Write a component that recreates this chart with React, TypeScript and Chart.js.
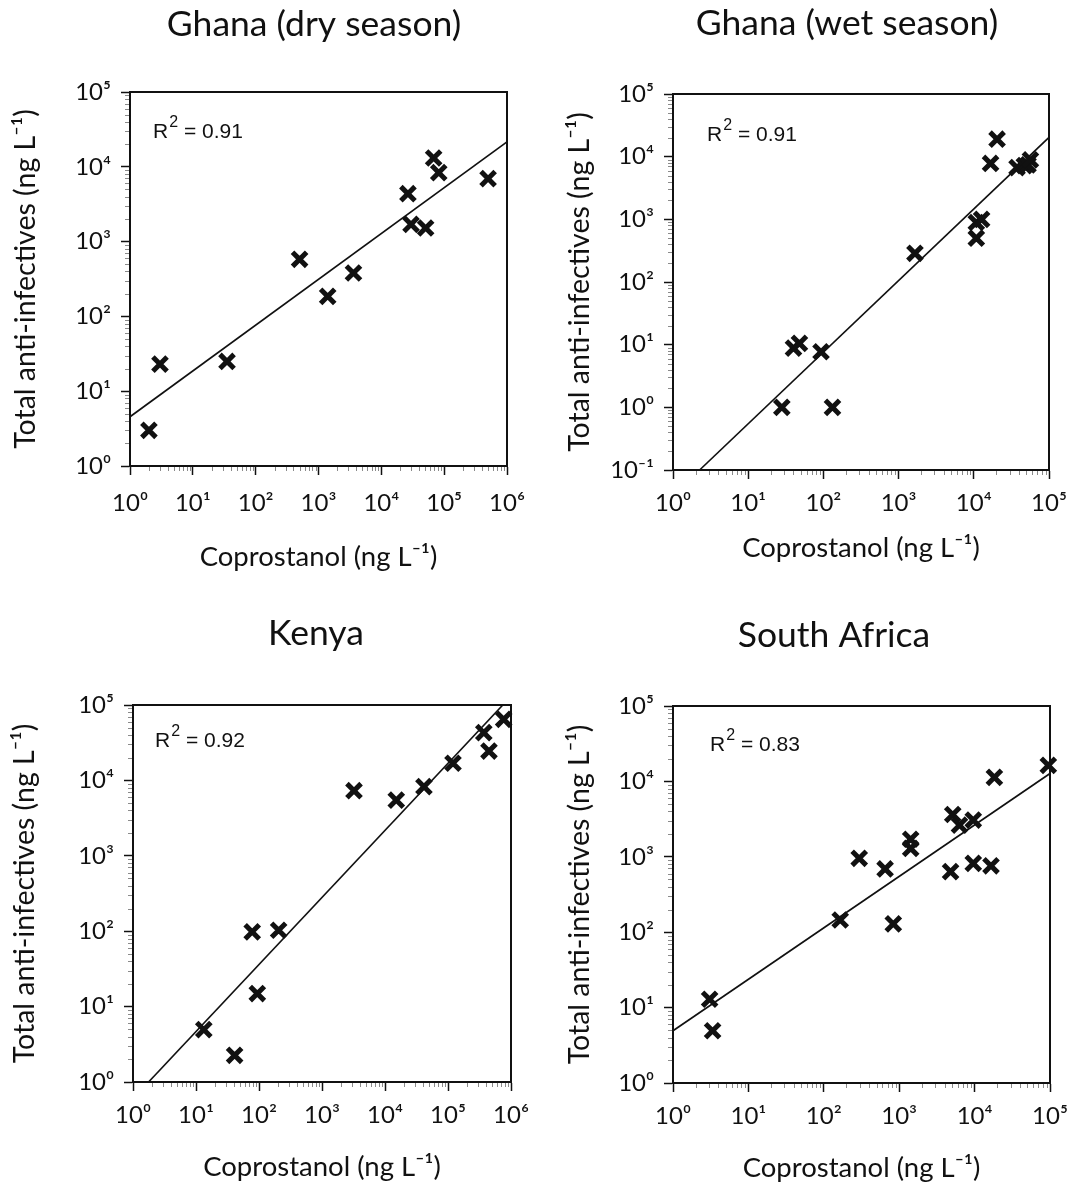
import { useEffect, useRef } from "react";
import { Chart, registerables } from "chart.js";

Chart.register(...registerables);

// ---------------- data ----------------
const panelTitles = ["Ghana (dry season)", "Ghana (wet season)", "Kenya", "South Africa"];
const r2Values = ["0.91", "0.91", "0.92", "0.83"];
const xMaxExps = [6, 5, 6, 5];
const yMinExps = [0, -1, 0, 0];
const yMaxExps = [5, 5, 5, 5];
const xAxisTitle = "Coprostanol (ng L⁻¹)";
const yAxisTitle = "Total anti-infectives (ng L⁻¹)";

const ghanaDryX = [2, 3, 35, 500, 1400, 3600, 26500, 29700, 50700, 68000, 82000, 500000];
const ghanaDryY = [3, 23, 25, 580, 185, 380, 4370, 1700, 1520, 13100, 8370, 6940];
const ghanaDryFitX = [1, 1000000];
const ghanaDryFitY = [4.55, 21500];

const ghanaWetX = [28, 132, 40, 48, 93, 1650, 10800, 10800, 12700, 16700, 20400, 37600, 47000, 52600, 56600];
const ghanaWetY = [1, 1, 8.8, 10.5, 7.7, 287, 500, 890, 1000, 7800, 19000, 6700, 7200, 7400, 8900];
const ghanaWetFitX = [2.26, 100000];
const ghanaWetFitY = [0.1, 20400];

const kenyaX = [13.3, 41, 78, 94, 205, 3220, 15100, 41500, 120000, 370000, 447000, 765000];
const kenyaY = [4.95, 2.26, 98, 14.9, 103, 7300, 5470, 8270, 16900, 43000, 24500, 64600];
const kenyaFitX = [1.77, 741000];
const kenyaFitY = [1, 100000];

const southAfricaX = [3.06, 3.35, 165, 295, 650, 835, 1420, 1420, 4800, 5130, 6300, 9600, 9600, 16500, 18300, 95000];
const southAfricaY = [12.9, 4.93, 145, 955, 690, 129, 1710, 1290, 635, 3640, 2630, 3070, 818, 760, 11300, 16300];
const southAfricaFitX = [1, 100000];
const southAfricaFitY = [4.93, 12700];

const seriesX = [ghanaDryX, ghanaWetX, kenyaX, southAfricaX];
const seriesY = [ghanaDryY, ghanaWetY, kenyaY, southAfricaY];
const fitXs = [ghanaDryFitX, ghanaWetFitX, kenyaFitX, southAfricaFitX];
const fitYs = [ghanaDryFitY, ghanaWetFitY, kenyaFitY, southAfricaFitY];

// ---------------- layout (pixels) ----------------
type Geo = {
  left: number; top: number; w: number; h: number;
  pt: number; pr: number; yW: number; xH: number;
  tx: number; ty: number; yTitlePad: number; xTitlePad: number;
  xLabelPad: number; r2dx: number; r2dy: number;
};
const geos: Geo[] = [
  { left: 0, top: 0, w: 527, h: 596, pt: 92, pr: 20, yW: 130, xH: 130, tx: 314, ty: 25, yTitlePad: 9, xTitlePad: 22, xLabelPad: 13.6, r2dx: 23, r2dy: 46 },
  { left: 537, top: 0, w: 532, h: 596, pt: 94, pr: 20, yW: 136, xH: 126, tx: 310, ty: 24, yTitlePad: 26, xTitlePad: 31.5, xLabelPad: 9.6, r2dx: 34, r2dy: 47 },
  { left: 0, top: 596, w: 531, h: 597, pt: 109, pr: 20, yW: 133, xH: 111, tx: 316, ty: 38, yTitlePad: 8, xTitlePad: 9.5, xLabelPad: 9.6, r2dx: 22, r2dy: 42 },
  { left: 537, top: 596, w: 533, h: 597, pt: 110, pr: 20, yW: 136, xH: 110, tx: 297, ty: 40, yTitlePad: 26, xTitlePad: 8.5, xLabelPad: 9.6, r2dx: 37, r2dy: 45 },
];

const FONT = "Lato, 'Open Sans', sans-serif";
const INK = "#111";

const SUP: Record<string, string> = { "0": "⁰", "1": "¹", "2": "²", "3": "³", "4": "⁴", "5": "⁵", "6": "⁶", "-": "⁻" };
const isPow10 = (v: number) => Math.abs(Math.log10(v) - Math.round(Math.log10(v))) < 1e-6;
const powLabel = (v: number) => "10" + String(Math.round(Math.log10(v))).split("").map((c) => SUP[c]).join("");
const logTicks = (minExp: number, maxExp: number) => {
  const out: { value: number; major: boolean }[] = [];
  for (let e = minExp; e < maxExp; e++) {
    for (let m = 1; m <= 9; m++) out.push({ value: m * Math.pow(10, e), major: m === 1 });
  }
  out.push({ value: Math.pow(10, maxExp), major: true });
  return out;
};

function Panel({ idx }: { idx: number }) {
  const ref = useRef<HTMLCanvasElement | null>(null);
  const g = geos[idx];

  useEffect(() => {
    if (!ref.current) return;
    const xs = seriesX[idx];
    const ys = seriesY[idx];
    const points = xs.map((x, i) => ({ x, y: ys[i] }));
    const fit = fitXs[idx].map((x, i) => ({ x, y: fitYs[idx][i] }));

    const framePlugin = {
      id: "frameMinor" + idx,
      beforeDatasetsDraw(chart: any) {
        const { ctx, chartArea } = chart;
        const { left, right, top, bottom } = chartArea;
        ctx.save();
        ctx.strokeStyle = "#8a8a8a";
        ctx.lineWidth = 1;
        const xs2 = chart.scales.x;
        const ys2 = chart.scales.y;
        ctx.beginPath();
        xs2.ticks.forEach((t: any) => {
          if (isPow10(t.value)) return;
          const px = Math.round(xs2.getPixelForValue(t.value)) + 0.5;
          ctx.moveTo(px, bottom);
          ctx.lineTo(px, bottom + 5);
        });
        ys2.ticks.forEach((t: any) => {
          if (isPow10(t.value)) return;
          const py = Math.round(ys2.getPixelForValue(t.value)) + 0.5;
          ctx.moveTo(left - 5, py);
          ctx.lineTo(left, py);
        });
        ctx.stroke();
        ctx.strokeStyle = INK;
        ctx.lineWidth = 2;
        ctx.strokeRect(left, top, right - left, bottom - top);
        ctx.restore();
      },
    };

    const textPlugin = {
      id: "panelText" + idx,
      afterDraw(chart: any) {
        const { ctx, chartArea } = chart;
        ctx.save();
        ctx.fillStyle = INK;
        // panel title
        ctx.textAlign = "center";
        ctx.textBaseline = "middle";
        ctx.font = "35.5px " + FONT;
        ctx.fillText(panelTitles[idx], g.tx, g.ty);
        // R² annotation
        const x0 = chartArea.left + g.r2dx;
        const y0 = chartArea.top + g.r2dy;
        ctx.textBaseline = "alphabetic";
        ctx.textAlign = "left";
        ctx.font = "21px 'Liberation Sans', Arial, sans-serif";
        ctx.fillText("R", x0, y0);
        const wR = ctx.measureText("R").width;
        ctx.font = "16px 'Liberation Sans', Arial, sans-serif";
        ctx.fillText("2", x0 + wR + 1, y0 - 11);
        const w2 = ctx.measureText("2").width;
        ctx.font = "21px 'Liberation Sans', Arial, sans-serif";
        ctx.fillText(" = " + r2Values[idx], x0 + wR + 1 + w2, y0);
        ctx.restore();
      },
    };

    const tickColor = (c: any) => (c.tick && isPow10(c.tick.value) ? INK : "rgba(0,0,0,0)");

    const chart = new Chart(ref.current, {
      type: "scatter",
      data: {
        datasets: [
          {
            label: "fit",
            data: fit,
            showLine: true,
            borderColor: INK,
            borderWidth: 1.7,
            pointRadius: 0,
            fill: false,
            clip: false,
          } as any,
          {
            label: panelTitles[idx],
            data: points,
            pointStyle: "crossRot",
            pointRadius: 10,
            pointBorderWidth: 5,
            borderWidth: 5,
            borderColor: INK,
            backgroundColor: INK,
            clip: false,
          } as any,
        ],
      },
      options: {
        animation: false,
        responsive: false,
        devicePixelRatio: 1,
        events: [],
        layout: { padding: { left: 0, right: g.pr, top: g.pt, bottom: 0 } },
        plugins: {
          legend: { display: false },
          tooltip: { enabled: false },
          title: { display: false },
        },
        scales: {
          x: {
            type: "logarithmic",
            position: "bottom",
            min: 1,
            max: Math.pow(10, xMaxExps[idx]),
            afterBuildTicks: (s: any) => { s.ticks = logTicks(0, xMaxExps[idx]); },
            afterFit: (s: any) => { s.height = g.xH; s.paddingLeft = 0; s.paddingRight = 0; s.paddingTop = 0; s.paddingBottom = 0; },
            grid: { drawOnChartArea: false, drawTicks: true, tickLength: 9, tickWidth: 1.5, tickColor },
            border: { display: true, color: INK, width: 2 },
            ticks: {
              autoSkip: false,
              maxRotation: 0,
              minRotation: 0,
              padding: g.xLabelPad,
              color: INK,
              font: { family: FONT, size: 24 },
              callback: (v: any) => (isPow10(Number(v)) ? powLabel(Number(v)) : ""),
            },
            title: {
              display: true,
              text: xAxisTitle,
              color: INK,
              font: { family: FONT, size: 27.5, lineHeight: 1.2 },
              padding: { top: 0, bottom: g.xTitlePad },
            },
          },
          y: {
            type: "logarithmic",
            position: "left",
            min: Math.pow(10, yMinExps[idx]),
            max: Math.pow(10, yMaxExps[idx]),
            afterBuildTicks: (s: any) => { s.ticks = logTicks(yMinExps[idx], yMaxExps[idx]); },
            afterFit: (s: any) => { s.width = g.yW; s.paddingLeft = 0; s.paddingRight = 0; s.paddingTop = 0; s.paddingBottom = 0; },
            grid: { drawOnChartArea: false, drawTicks: true, tickLength: 9, tickWidth: 1.5, tickColor },
            border: { display: true, color: INK, width: 2 },
            ticks: {
              autoSkip: false,
              padding: 10,
              color: INK,
              font: { family: FONT, size: 24 },
              callback: (v: any) => (isPow10(Number(v)) ? powLabel(Number(v)) : ""),
            },
            title: {
              display: true,
              text: yAxisTitle,
              color: INK,
              font: { family: FONT, size: 28.5, lineHeight: 1.2 },
              padding: { top: g.yTitlePad, bottom: 0 },
            },
          },
        },
      } as any,
      plugins: [framePlugin, textPlugin],
    });
    return () => chart.destroy();
  }, [idx]);

  return (
    <canvas
      ref={ref}
      width={g.w}
      height={g.h}
      style={{ position: "absolute", left: g.left, top: g.top, width: g.w, height: g.h }}
    />
  );
}

export default function App() {
  return (
    <div
      style={{
        position: "absolute",
        left: 0,
        top: 0,
        width: 1075,
        height: 1193,
        overflow: "hidden",
        background: "#ffffff",
      }}
    >
      {[0, 1, 2, 3].map((i) => (
        <Panel key={i} idx={i} />
      ))}
    </div>
  );
}
